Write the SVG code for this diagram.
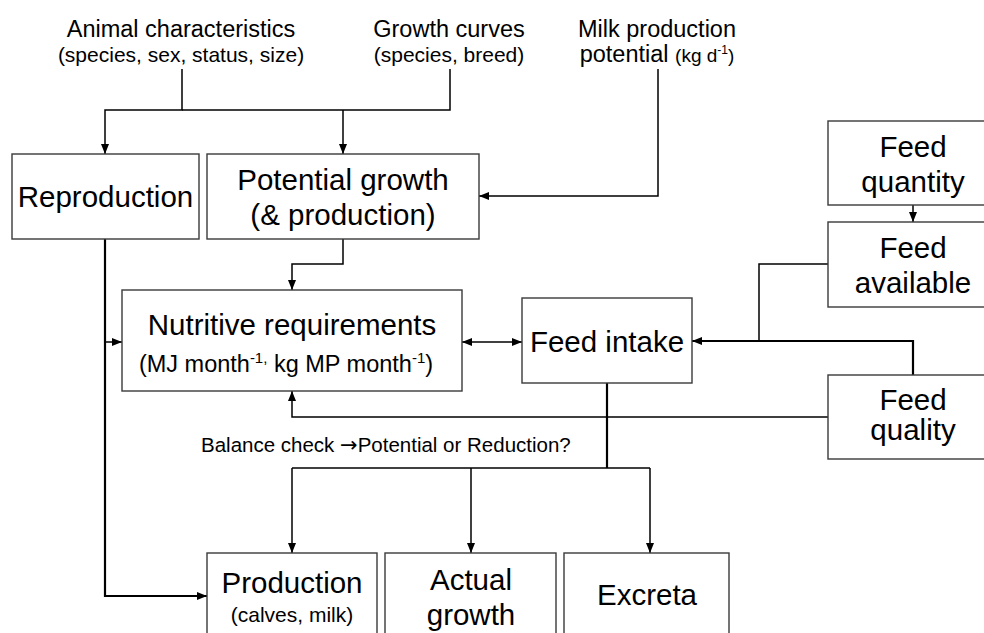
<svg xmlns="http://www.w3.org/2000/svg" width="984" height="633" viewBox="0 0 984 633">
<defs>
<marker id="ah" markerUnits="userSpaceOnUse" markerWidth="10" markerHeight="10" viewBox="0 0 10 10" refX="10" refY="5" orient="auto-start-reverse"><path d="M0,1 L10,5 L0,9 z" fill="#000"/></marker>
</defs>
<style>
text{font-family:"Liberation Sans",Arial,sans-serif;fill:#000}
.box{fill:#fff;stroke:#3a3a3a;stroke-width:1.4}
.big{font-size:29.5px;text-anchor:middle}
.t{font-size:23.5px;text-anchor:middle}
.s{font-size:21px;text-anchor:middle}
.c{fill:none;stroke:#000;stroke-width:1.5}
.k{fill:none;stroke:#000;stroke-width:2.2}
.a{marker-end:url(#ah)}
</style>
<rect width="984" height="633" fill="#fff"/>
<g id="labels">
<text class="t" x="181" y="37">Animal characteristics</text>
<text class="s" x="181" y="62">(species, sex, status, size)</text>
<text class="t" x="449" y="37">Growth curves</text>
<text class="s" x="449" y="62">(species, breed)</text>
<text class="t" x="657" y="37">Milk production</text>
<text class="t" x="657" y="62">potential <tspan font-size="19">(kg d<tspan font-size="12" dy="-8">-1</tspan><tspan dy="8">)</tspan></tspan></text>
<text x="201" y="452" font-size="20.5">Balance check <tspan font-family="DejaVu Sans" font-size="21">→</tspan>Potential or Reduction?</text>
</g>
<g id="connectors">
<path class="c a" d="M182,69 V110 H105 V154"/>
<path class="c" d="M450,69 V110 H182"/>
<path class="c a" d="M343,110 V154"/>
<path class="c a" d="M658,69 V196 H479"/>
<path class="c a" d="M343,239 V264 H292 V290"/>
<path class="k a" d="M105,239 V596 H207"/>
<path class="c a" d="M105,342 H122"/>
<path class="c a" d="M462,342 H522" marker-start="url(#ah)"/>
<path class="c a" d="M913,205 V222"/>
<path class="c" d="M828,264 H759 V341"/>
<path class="k a" d="M913,375 V341 H692"/>
<path class="c a" d="M828,417 H292 V391"/>
<path class="k" d="M607,383 V468"/>
<path class="c" d="M292,468 H650"/>
<path class="c a" d="M292,468 V553"/>
<path class="c a" d="M471,468 V553"/>
<path class="c a" d="M650,468 V553"/>
</g>
<g id="reproduction">
<rect class="box" x="12" y="154" width="187" height="85"/>
<text class="big" x="105.5" y="207">Reproduction</text>
</g>
<g id="potential-growth">
<rect class="box" x="207" y="154" width="272" height="85"/>
<text class="big" x="343" y="190">Potential growth</text>
<text class="big" x="343" y="225">(&amp; production)</text>
</g>
<g id="nutritive-requirements">
<rect class="box" x="122" y="290" width="340" height="101"/>
<text class="big" x="292" y="335">Nutritive requirements</text>
<text x="286" y="372" font-size="23.5" text-anchor="middle">(MJ month<tspan font-size="15" dy="-9">-1,</tspan><tspan dy="9"> kg MP month</tspan><tspan font-size="15" dy="-9">-1</tspan><tspan dy="9">)</tspan></text>
</g>
<g id="feed-intake">
<rect class="box" x="522" y="298" width="170" height="85"/>
<text class="big" x="607" y="352">Feed intake</text>
</g>
<g id="feed-quantity">
<rect class="box" x="828" y="121" width="170" height="84"/>
<text class="big" x="913" y="157">Feed</text>
<text class="big" x="913" y="192">quantity</text>
</g>
<g id="feed-available">
<rect class="box" x="828" y="222" width="170" height="85"/>
<text class="big" x="913" y="258">Feed</text>
<text class="big" x="913" y="293">available</text>
</g>
<g id="feed-quality">
<rect class="box" x="828" y="375" width="170" height="84"/>
<text class="big" x="913" y="410">Feed</text>
<text class="big" x="913" y="440">quality</text>
</g>
<g id="production">
<rect class="box" x="207" y="553" width="170" height="95"/>
<text class="big" x="292" y="593">Production</text>
<text class="s" x="292" y="622">(calves, milk)</text>
</g>
<g id="actual-growth">
<rect class="box" x="385" y="553" width="171" height="95"/>
<text class="big" x="471" y="590">Actual</text>
<text class="big" x="471" y="625">growth</text>
</g>
<g id="excreta">
<rect class="box" x="564" y="553" width="165" height="95"/>
<text class="big" x="647" y="605">Excreta</text>
</g>
</svg>
